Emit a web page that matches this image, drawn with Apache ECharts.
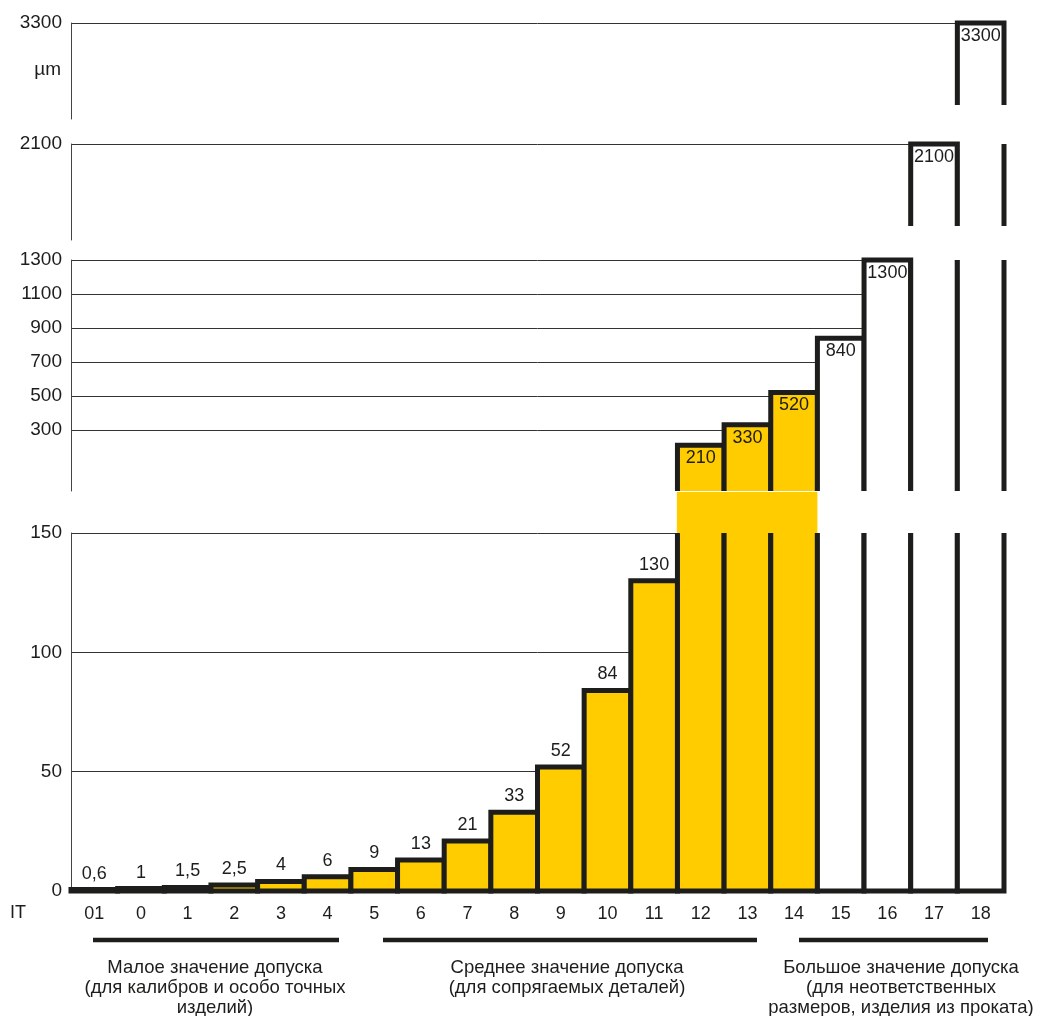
<!DOCTYPE html>
<html>
<head>
<meta charset="utf-8">
<title>Допуски IT</title>
<script src="https://cdn.jsdelivr.net/npm/echarts@6/dist/echarts.min.js"></script>
<style>
html, body { margin: 0; padding: 0; background: #fff; }
#main { width: 1038px; height: 1016px; }
</style>
</head>
<body>
<div id="main"></div>
<script>
// квалитеты и значения допуска, мкм
var grades = ['01', '0', '1', '2', '3', '4', '5', '6', '7', '8', '9', '10', '11', '12', '13', '14', '15', '16', '17', '18'];
var tolerances = [0.6, 1, 1.5, 2.5, 4, 6, 9, 13, 21, 33, 52, 84, 130, 210, 330, 520, 840, 1300, 2100, 3300];
// закрашенные столбцы
var filledGrades = ['2', '3', '4', '5', '6', '7', '8', '9', '10', '11', '12', '13', '14'];

// деления оси по участкам (снизу вверх)
var ticksLow = [0, 50, 100, 150];
var ticksMid = [300, 500, 700, 900, 1100, 1300];
var ticksHigh = [2100];
var ticksTop = [3300];

var groupLines = [
    ['Малое значение допуска', '(для калибров и особо точных', 'изделий)'],
    ['Среднее значение допуска', '(для сопрягаемых деталей)'],
    ['Большое значение допуска', '(для неответственных', 'размеров, изделия из проката)']
];

var FONT = '"Liberation Sans", Arial, Helvetica, sans-serif';
var INK = '#1d1d1b';
var YELLOW = '#ffcc00';
var LW = 5;          // толщина контура столбцов
var BREAK_FILL = 41; // заливка в разрыве между нижним и средним участками

// участки оси (снизу вверх)
var segs = [
    {top: 533, height: 358, min: 0, max: 150, ticks: ticksLow, stop: 0},
    {top: 260, height: 231, min: -60, max: 1300, ticks: ticksMid, stop: 0},
    {top: 144, height: 96, min: 0, max: 2100, ticks: ticksHigh, stop: 14},
    {top: 23, height: 96, min: 0, max: 3300, ticks: ticksTop, stop: 14}
];

function fmt(v) {
    return String(v).replace('.', ',');
}

function makeRender(k) {
    return function (params, api) {
        var idx = api.value(0), val = api.value(1);
        var seg = segs[k];
        var low = k === 0 ? -Infinity : segs[k - 1].max;
        if (val <= low) return null;
        var cs = params.coordSys;
        var bw = api.size([1, 0])[0];
        var cx = api.coord([idx, 0])[0];
        var xl = cx - bw / 2, xr = cx + bw / 2;
        var basePx = k === 0 ? api.coord([idx, 0])[1] : cs.y + cs.height - seg.stop;
        var cont = val > seg.max;
        var topPx = cont ? cs.y : api.coord([idx, val])[1];
        var filled = filledGrades.indexOf(grades[idx]) >= 0;
        var fillTop = (cont && k === 0) ? cs.y - BREAK_FILL : topPx;
        var pad = filled ? 0.6 : 0;
        var children = [{
            type: 'rect',
            shape: {x: xl - pad, y: fillTop, width: bw + 2 * pad, height: basePx - fillTop},
            style: {fill: filled ? YELLOW : '#fff'}
        }];
        var stroke = {stroke: INK, lineWidth: LW, fill: null, lineJoin: 'miter'};
        if (cont && k === 0) {
            // продолжается выше: контур без верхней грани
            children.push({type: 'polyline', shape: {points: [[xl, topPx], [xl, basePx], [xr, basePx], [xr, topPx]]}, style: stroke});
        } else if (cont) {
            children.push({type: 'line', shape: {x1: xl, y1: basePx, x2: xl, y2: topPx}, style: stroke});
            children.push({type: 'line', shape: {x1: xr, y1: basePx, x2: xr, y2: topPx}, style: stroke});
        } else if (k === 0) {
            children.push({type: 'polygon', shape: {points: [[xl, basePx], [xl, topPx], [xr, topPx], [xr, basePx]]}, style: stroke});
        } else {
            children.push({type: 'polyline', shape: {points: [[xl, basePx], [xl, topPx], [xr, topPx], [xr, basePx]]}, style: stroke});
        }
        if (!cont) {
            children.push({
                type: 'text',
                x: cx,
                y: k === 0 ? topPx - 16 : topPx + 13,
                style: {text: fmt(val), fill: INK, font: '18px ' + FONT, align: 'center', verticalAlign: 'middle'}
            });
        }
        return {type: 'group', children: children};
    };
}

var seriesData = tolerances.map(function (v, i) { return [i, v]; });

var chart = echarts.init(document.getElementById('main'));

function bottomText(text, x, y) {
    return {
        type: 'text', x: x, y: y,
        style: {text: text, font: '18.5px ' + FONT, fill: INK, align: 'center', verticalAlign: 'middle'}
    };
}

var option = {
    backgroundColor: '#fff',
    animation: false,
    grid: segs.map(function (s) {
        return {left: 71, right: 34, top: s.top, height: s.height};
    }),
    xAxis: segs.map(function (s, k) {
        return {
            type: 'category',
            gridIndex: k,
            data: grades,
            show: k === 0,
            axisLine: {show: false},
            axisTick: {show: false},
            splitLine: {show: false},
            axisLabel: {fontSize: 18, color: INK, margin: 14, fontFamily: FONT}
        };
    }),
    yAxis: segs.map(function (s, k) {
        return {
            type: 'value',
            gridIndex: k,
            min: s.min,
            max: s.max,
            axisLine: {show: true, lineStyle: {color: '#444', width: 1}},
            axisTick: {show: false, customValues: s.ticks},
            axisLabel: {
                customValues: s.ticks, fontSize: 19, color: INK, margin: 9, fontFamily: FONT,
                formatter: function (v) { return String(v); }
            },
            splitLine: {show: true, lineStyle: {color: '#333', width: 1}}
        };
    }),
    series: segs.map(function (s, k) {
        return {
            type: 'custom',
            xAxisIndex: k,
            yAxisIndex: k,
            renderItem: makeRender(k),
            data: seriesData,
            z: 3
        };
    }),
    graphic: [
        {type: 'text', left: 10, top: 904, style: {text: 'IT', font: '18px ' + FONT, fill: INK}},
        {type: 'text', x: 61, y: 70, style: {text: 'µm', font: '19px ' + FONT, fill: INK, align: 'right', verticalAlign: 'middle'}},
        {type: 'line', shape: {x1: 93, y1: 940, x2: 339, y2: 940}, style: {stroke: INK, lineWidth: 4.5}},
        {type: 'line', shape: {x1: 383, y1: 940, x2: 757, y2: 940}, style: {stroke: INK, lineWidth: 4.5}},
        {type: 'line', shape: {x1: 799, y1: 940, x2: 988, y2: 940}, style: {stroke: INK, lineWidth: 4.5}},
        bottomText(groupLines[0][0], 215, 968),
        bottomText(groupLines[0][1], 215, 988),
        bottomText(groupLines[0][2], 215, 1008),
        bottomText(groupLines[1][0], 567, 968),
        bottomText(groupLines[1][1], 567, 988),
        bottomText(groupLines[2][0], 901, 968),
        bottomText(groupLines[2][1], 901, 988),
        bottomText(groupLines[2][2], 901, 1008)
    ]
};

chart.setOption(option);
</script>
</body>
</html>
